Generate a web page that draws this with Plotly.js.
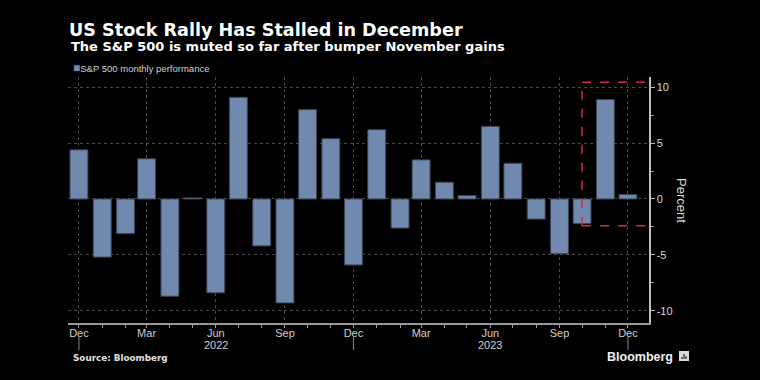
<!DOCTYPE html>
<html>
<head>
<meta charset="utf-8">
<script src="https://cdn.plot.ly/plotly-3.0.1.min.js"></script>
<style>
html,body{margin:0;padding:0;background:#000;}
#chart{width:760px;height:380px;}
</style>
</head>
<body>
<div id="chart"></div>
<script>
// ---- data ----
const months = ['2021-12-01','2022-01-01','2022-02-01','2022-03-01','2022-04-01','2022-05-01','2022-06-01','2022-07-01','2022-08-01','2022-09-01','2022-10-01','2022-11-01','2022-12-01','2023-01-01','2023-02-01','2023-03-01','2023-04-01','2023-05-01','2023-06-01','2023-07-01','2023-08-01','2023-09-01','2023-10-01','2023-11-01','2023-12-01'];
const spxMonthly = [4.4,-5.2,-3.1,3.6,-8.7,0.1,-8.4,9.1,-4.2,-9.3,8.0,5.4,-5.9,6.2,-2.6,3.5,1.5,0.3,6.5,3.2,-1.8,-4.9,-2.2,8.9,0.4];
const seriesName = 'S&P 500 monthly performance';
const yTickVals = [-10,-5,0,5,10];
const yTickText = ['-10','-5','0','5','10'];
const yearLabels = ['2022','2023'];
const yearLabelPos = ['2022-06-01','2023-06-01'];
const yearDividers = ['2021-12-01','2022-12-01','2023-12-01'];
const highlightStart = '2023-10-01';
const highlightLow = -2.4;
const highlightHigh = 10.45;

const xRange = ['2021-11-16 12:00','2023-12-29'];
const yRange = [-11.1, 10.92];

const PL = 68, PT = 77, PW = 581, PH = 246;
const px = x => (x - PL) / PW;
const py = y => (PT + PH - y) / PH;
const barColor = '#7189ae';
const sans = 'Liberation Sans, Arial, sans-serif';
const heavy = 'DejaVu Sans, sans-serif';

const shapes = [];
yearDividers.forEach(d => shapes.push({type:'line', xref:'x', yref:'paper', x0:d, x1:d, y0:py(336), y1:py(350), line:{color:'#8a8a8a', width:1}}));
const redLine = {color:'#d42a4c', width:1.5, dash:'dash'};
shapes.push({type:'line', xref:'x', yref:'y', x0:highlightStart, x1:xRange[1], y0:highlightHigh, y1:highlightHigh, line:redLine});
shapes.push({type:'line', xref:'x', yref:'y', x0:highlightStart, x1:xRange[1], y0:highlightLow, y1:highlightLow, line:redLine});
shapes.push({type:'line', xref:'x', yref:'y', x0:highlightStart, x1:highlightStart, y0:highlightLow, y1:highlightHigh, line:redLine});
// Bloomberg logo icon
shapes.push({type:'rect', xref:'paper', yref:'paper', x0:px(679), x1:px(689), y0:py(361), y1:py(351), fillcolor:'#dcdcdc', line:{width:0}});
[[682,357],[684,354],[686,356]].forEach(b => shapes.push({type:'line', xref:'paper', yref:'paper', x0:px(b[0]), x1:px(b[0]), y0:py(359), y1:py(b[1]), line:{color:'#000', width:1}}));

const annotations = [];
yearLabels.forEach((t,i) => annotations.push({text:t, x:yearLabelPos[i], xref:'x', y:py(345), yref:'paper', showarrow:false, yanchor:'middle', font:{family:sans, size:11, color:'#cfcfcf'}}));
annotations.push({text:'The S&P 500 is muted so far after bumper November gains', xref:'paper', yref:'paper', x:px(69), y:py(47), xanchor:'left', yanchor:'middle', showarrow:false, font:{family:heavy, size:13, color:'#ffffff', weight:'bold'}});
annotations.push({text:'<span style="color:' + barColor + ';font-size:12px">■</span>' + seriesName, xref:'paper', yref:'paper', x:px(71), y:py(68), xanchor:'left', yanchor:'middle', showarrow:false, font:{family:sans, size:9.5, color:'#cfcfcf'}});
annotations.push({text:'Percent', xref:'paper', yref:'paper', x:px(682), y:py(200), xanchor:'center', yanchor:'middle', textangle:90, showarrow:false, font:{family:sans, size:13, color:'#d8d8d8'}});
annotations.push({text:'<b>Source: Bloomberg</b>', xref:'paper', yref:'paper', x:px(71), y:py(358), xanchor:'left', yanchor:'middle', showarrow:false, font:{family:heavy, size:8.8, color:'#e0e0e0'}});
annotations.push({text:'<b>Bloomberg</b>', xref:'paper', yref:'paper', x:px(675), y:py(357), xanchor:'right', yanchor:'middle', showarrow:false, font:{family:sans, size:12.5, color:'#f0f0f0'}});

const trace = {
  type:'bar', x:months, y:spxMonthly, name:seriesName, showlegend:false,
  marker:{color:barColor, line:{color:'#3a4558', width:1}}
};

const layout = {
  width:760, height:380,
  paper_bgcolor:'#000', plot_bgcolor:'#000',
  margin:{l:PL, r:760-PL-PW, t:PT, b:380-PT-PH},
  title:{text:'US Stock Rally Has Stalled in December', xref:'container', yref:'container', x:69/760, xanchor:'left', y:1-30/380, yanchor:'middle', font:{family:heavy, size:17.6, color:'#ffffff', weight:'bold'}},
  bargap:0.15,
  showlegend:false,
  xaxis:{type:'date', range:xRange, tickmode:'linear', tick0:'2021-12-01', dtick:'M3', tickformat:'%b',
    showgrid:true, gridcolor:'#4a4a4a', griddash:'dot', gridwidth:1,
    showline:true, linecolor:'#9a9a9a', linewidth:1.5,
    ticks:'outside', ticklen:3, tickcolor:'#9a9a9a', ticklabelstandoff:-4,
    minor:{dtick:'M1', tick0:'2021-12-01', ticks:'outside', ticklen:3, tickcolor:'#9a9a9a', showgrid:false},
    tickfont:{family:sans, size:11, color:'#cfcfcf'}, zeroline:false, fixedrange:true},
  yaxis:{side:'right', range:yRange, tickmode:'array', tickvals:yTickVals, ticktext:yTickText,
    showgrid:true, gridcolor:'#4a4a4a', griddash:'dot', gridwidth:1, zeroline:false,
    showline:true, linecolor:'#bdbdbd', linewidth:1.5,
    ticks:'outside', ticklen:4, tickcolor:'#bdbdbd',
    minor:{tickvals:[-7.5,-2.5,2.5,7.5], ticks:'outside', ticklen:3, tickcolor:'#9a9a9a', showgrid:false},
    tickfont:{family:sans, size:11, color:'#d8d8d8'}},
  shapes:shapes, annotations:annotations
};

Plotly.newPlot('chart', [trace], layout, {displayModeBar:false, staticPlot:true});
</script>
</body>
</html>
